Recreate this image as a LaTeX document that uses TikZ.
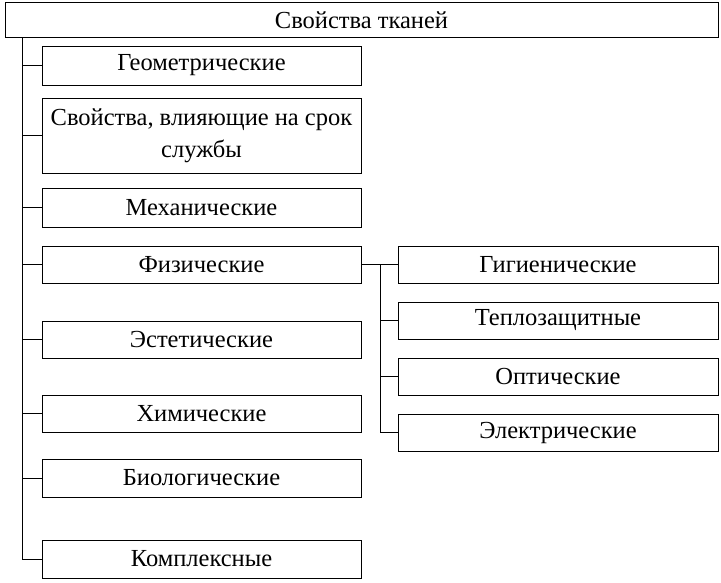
\documentclass[tikz,border=0pt]{standalone}
\usepackage{fontspec}
\setmainfont{Liberation Serif}
\begin{document}
\begin{tikzpicture}[x=1pt, y=-1pt,
	prop/.style={shape=rectangle, draw=black, line width=1pt,
				 minimum width=319pt, align=center, inner sep=1pt,
				 font=\fontsize{24.5}{32}\selectfont},
	line width=1pt]
	\useasboundingbox (0,0) rectangle (721,582);
	\draw (361.5,20) node[prop, minimum width=713pt, minimum height=35pt](root){Свойства тканей};

	% left column
	\draw (201.5,65.5) node[prop, minimum height=39pt](geom){Геометрические};
	\draw (201.5,135.5) node[prop, minimum height=75pt](srok){Свойства, влияющие на срок\\службы};
	\draw (201.5,207.5) node[prop, minimum height=39pt](mech){Механические};
	\draw (201.5,264.5) node[prop, minimum height=37pt](phys){Физические};
	\draw (201.5,339.5) node[prop, minimum height=37pt](est){Эстетические};
	\draw (201.5,413.5) node[prop, minimum height=37pt](chem){Химические};
	\draw (201.5,478) node[prop, minimum height=38pt](bio){Биологические};
	\draw (201.5,559) node[prop, minimum height=38pt](compl){Комплексные};

	% right column
	\draw (558,264.5) node[prop, minimum width=320pt, minimum height=37pt](hyg){Гигиенические};
	\draw (558,320.5) node[prop, minimum width=320pt, minimum height=37pt](heat){Теплозащитные};
	\draw (558,376.5) node[prop, minimum width=320pt, minimum height=37pt](opt){Оптические};
	\draw (558,432.5) node[prop, minimum width=320pt, minimum height=37pt](elec){Электрические};

	\coordinate (trunk) at (22,0);
	\draw (trunk |- root.south) -- (trunk |- compl.west);
	\foreach \n in {geom,srok,mech,phys,est,chem,bio,compl}
		\draw (trunk |- \n.west) -- (\n.west);

	\coordinate (branch) at (380,0);
	\draw (phys.east) -- (branch |- phys.east);
	\draw (branch |- hyg.west) -- (branch |- elec.west);
	\foreach \n in {hyg,heat,opt,elec}
		\draw (branch |- \n.west) -- (\n.west);
\end{tikzpicture}
\end{document}
